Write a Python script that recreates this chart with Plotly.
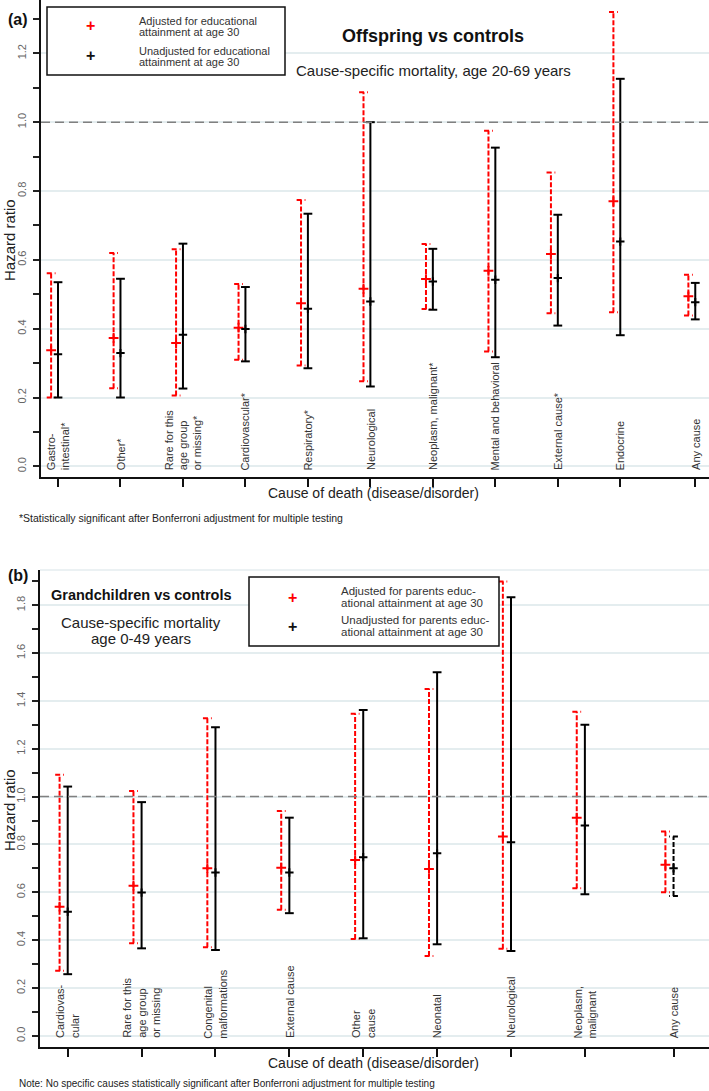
import plotly.graph_objects as go

# ---------------- DATA ----------------
# Panel (a): Offspring vs controls, cause-specific mortality age 20-69
a_labels = ["Gastro-<br>intestinal*", "Other*", "Rare for this<br>age group<br>or missing*",
            "Cardiovascular*", "Respiratory*", "Neurological", "Neoplasm, malignant*",
            "Mental and behavioral", "External cause*", "Endocrine", "Any cause"]
a_pos = [1, 2, 3, 4, 5, 6, 7, 8, 9, 10, 11.2]
a_adj_hr = [0.337, 0.373, 0.358, 0.403, 0.474, 0.516, 0.544, 0.568, 0.617, 0.770, 0.494]
a_adj_lo = [0.200, 0.227, 0.206, 0.310, 0.293, 0.247, 0.457, 0.334, 0.445, 0.448, 0.438]
a_adj_hi = [0.561, 0.620, 0.631, 0.530, 0.774, 1.087, 0.646, 0.975, 0.854, 1.320, 0.557]
a_una_hr = [0.326, 0.329, 0.382, 0.399, 0.458, 0.479, 0.537, 0.542, 0.547, 0.653, 0.477]
a_una_lo = [0.200, 0.200, 0.226, 0.305, 0.285, 0.232, 0.455, 0.317, 0.409, 0.381, 0.427]
a_una_hi = [0.535, 0.545, 0.647, 0.521, 0.734, 1.000, 0.632, 0.926, 0.731, 1.126, 0.533]

# Panel (b): Grandchildren vs controls, cause-specific mortality age 0-49
b_labels = ["Cardiovas-<br>cular", "Rare for this<br>age group<br>or missing", "Congenital<br>malformations",
            "External cause", "Other<br>cause", "Neonatal", "Neurological", "Neoplasm,<br>malignant", "Any cause"]
b_pos = [1, 2, 3, 4, 5, 6, 7, 8, 9.2]
b_adj_hr = [0.540, 0.628, 0.701, 0.703, 0.735, 0.698, 0.833, 0.912, 0.715]
b_adj_lo = [0.272, 0.387, 0.371, 0.527, 0.405, 0.334, 0.364, 0.617, 0.600]
b_adj_hi = [1.091, 1.024, 1.328, 0.940, 1.346, 1.450, 1.899, 1.355, 0.854]
b_una_hr = [0.519, 0.599, 0.683, 0.683, 0.747, 0.763, 0.809, 0.879, 0.701]
b_una_lo = [0.258, 0.366, 0.359, 0.513, 0.408, 0.383, 0.355, 0.592, 0.585]
b_una_hi = [1.042, 0.977, 1.290, 0.912, 1.362, 1.520, 1.833, 1.300, 0.833]

REF_HR = 1.0
y_ticks = [0.0, 0.2, 0.4, 0.6, 0.8, 1.0, 1.2, 1.4, 1.6, 1.8]

# ---------------- STYLE ----------------
W, H = 709, 1091
FONT = "Liberation Sans, Arial, sans-serif"
RED = "#ff0000"
BLACK = "#000000"
GRID = "#e4edef"
RED_OFF = -0.11
DASHED_UNADJ_B = {"Any cause"}


def px_x(x):
    return x / W


def px_y(y):
    return 1 - y / H


# axis geometry (pixels)
A_LEFT, A_TOP, A_BOT = 41, 0, 477
B_LEFT, B_TOP, B_BOT = 40, 570, 1046.7
A_XR = [0.728, 11.42]
A_YR = [-0.031, 1.355]
B_XR = [0.625, 9.68]
B_YR = [-0.045, 1.947]

a_ppu = (W - A_LEFT) / (A_XR[1] - A_XR[0])
b_ppu = (W - B_LEFT) / (B_XR[1] - B_XR[0])

fig = go.Figure()


def add_series(xa, ya, pos, lo, hi, hr, off, color, ppu, dashed, cap_dir, msize, labels=None, dashed_set=None):
    cw = 4.4 / ppu
    groups = {}
    for i, p in enumerate(pos):
        d = dashed
        cd = cap_dir
        if dashed_set is not None and labels is not None:
            lab = labels[i].replace("<br>", " ")
            if lab in dashed_set:
                d = True
                cd = "right"
        key = (d, cd)
        g = groups.setdefault(key, {"vx": [], "vy": [], "cx": [], "cy": []})
        x = p + off
        g["vx"] += [x, x, None]
        g["vy"] += [lo[i], hi[i], None]
        for yv in (lo[i], hi[i]):
            if cd == "left":
                g["cx"] += [x - cw, x + cw, None]
            else:
                g["cx"] += [x + cw, x - cw, None]
            g["cy"] += [yv, yv, None]
    for (d, cd), g in groups.items():
        dash = "5px,2px" if d else "solid"
        capdash = "5px,3px" if d else "solid"
        fig.add_trace(go.Scatter(x=g["vx"], y=g["vy"], mode="lines", xaxis=xa, yaxis=ya,
                                 line=dict(color=color, width=2, dash=dash),
                                 hoverinfo="skip", showlegend=False, connectgaps=False))
        fig.add_trace(go.Scatter(x=g["cx"], y=g["cy"], mode="lines", xaxis=xa, yaxis=ya,
                                 line=dict(color=color, width=2, dash=capdash),
                                 hoverinfo="skip", showlegend=False, connectgaps=False))
    fig.add_trace(go.Scatter(x=[p + off for p in pos], y=hr, mode="markers", xaxis=xa, yaxis=ya,
                             marker=dict(symbol="cross-thin", size=msize, color=color,
                                         line=dict(color=color, width=2)),
                             showlegend=False))


# Panel a
add_series("x", "y", a_pos, a_adj_lo, a_adj_hi, a_adj_hr, RED_OFF, RED, a_ppu, True, "left", 7)
add_series("x", "y", a_pos, a_una_lo, a_una_hi, a_una_hr, 0.0, BLACK, a_ppu, False, "left", 6)
# Panel b
add_series("x2", "y2", b_pos, b_adj_lo, b_adj_hi, b_adj_hr, RED_OFF, RED, b_ppu, True, "left", 7)
add_series("x2", "y2", b_pos, b_una_lo, b_una_hi, b_una_hr, 0.0, BLACK, b_ppu, False, "left", 6,
           labels=b_labels, dashed_set=DASHED_UNADJ_B)

yaxis_common = dict(
    tickvals=y_ticks, ticktext=[f"{v:.1f}" for v in y_ticks], tickangle=-90,
    ticks="outside", ticklen=6, tickwidth=1.5, tickcolor="#222",
    tickfont=dict(family=FONT, size=11, color="#666"),
    minor=dict(dtick=0.1, tick0=0, ticks="outside", ticklen=6, tickwidth=1.5, tickcolor="#222", showgrid=False),
    showgrid=True, gridcolor=GRID, gridwidth=1.5, zeroline=False,
    showline=True, linecolor="#111", linewidth=2, ticklabelstandoff=3,
)
xaxis_common = dict(
    ticks="outside", ticklen=8, tickwidth=2, tickcolor="#111", showticklabels=False,
    showgrid=False, zeroline=False, showline=True, linecolor="#111", linewidth=2,
)

fig.update_layout(
    width=W, height=H, margin=dict(l=0, r=0, t=0, b=0),
    paper_bgcolor="white", plot_bgcolor="white",
    font=dict(family=FONT, color="#222"),
    xaxis=dict(domain=[A_LEFT / W, 1], range=A_XR, tickvals=a_pos, anchor="y", **xaxis_common),
    yaxis=dict(domain=[px_y(A_BOT), px_y(A_TOP)], range=A_YR, anchor="x", **yaxis_common),
    xaxis2=dict(domain=[B_LEFT / W, 1], range=B_XR, tickvals=b_pos, anchor="y2", **xaxis_common),
    yaxis2=dict(domain=[px_y(B_BOT), px_y(B_TOP)], range=B_YR, anchor="x2", **yaxis_common),
    showlegend=False,
)

shapes = []
# reference lines at HR = 1
for xr, yr in (("x domain", "y"), ("x2 domain", "y2")):
    shapes.append(dict(type="line", xref=xr, yref=yr, x0=0, x1=1, y0=REF_HR, y1=REF_HR,
                       line=dict(color="#808080", width=1.5, dash="9px,5px"), layer="above"))
# faint top border on panel b
shapes.append(dict(type="line", xref="x2 domain", yref="y2 domain", x0=0, x1=1, y0=1, y1=1,
                   line=dict(color=GRID, width=1.5), layer="below"))
# legend boxes
shapes.append(dict(type="rect", xref="paper", yref="paper", x0=px_x(47), x1=px_x(285),
                   y0=px_y(75), y1=px_y(7), line=dict(color="#111", width=1.5), fillcolor="white", layer="above"))
shapes.append(dict(type="rect", xref="paper", yref="paper", x0=px_x(249), x1=px_x(499),
                   y0=px_y(646), y1=px_y(577), line=dict(color="#111", width=1.5), fillcolor="white", layer="above"))
fig.update_layout(shapes=shapes)

ann = []


def text(x, y, s, size, xanchor="center", yanchor="middle", bold=False, color="#222", angle=0, align="center"):
    ann.append(dict(xref="paper", yref="paper", x=px_x(x), y=px_y(y), text=(f"<b>{s}</b>" if bold else s),
                    showarrow=False, xanchor=xanchor, yanchor=yanchor, textangle=angle, align=align,
                    font=dict(family=FONT, size=size, color=color)))


# Panel a texts
text(18, 19, "(a)", 16, bold=True, color="#111")
text(90, 26, "+", 16, bold=True, color=RED)
text(90, 56, "+", 16, bold=True, color="#111")
text(137, 21, "Adjusted for educational", 11, xanchor="left", color="#333")
text(137, 32, "attainment at age 30", 11, xanchor="left", color="#333")
text(137, 51, "Unadjusted for educational", 11, xanchor="left", color="#333")
text(137, 62, "attainment at age 30", 11, xanchor="left", color="#333")
text(433, 36, "Offspring vs controls", 18, bold=True, color="#111")
text(433, 70, "Cause-specific mortality, age 20-69 years", 15, color="#222")
text(9, 240, "Hazard ratio", 15, angle=-90, color="#222")
text(374, 493, "Cause of death (disease/disorder)", 14, color="#222")
text(17, 518, "*Statistically significant after Bonferroni adjustment for multiple testing", 10.5,
     xanchor="left", color="#222")

# Panel b texts
text(18, 575, "(b)", 16, bold=True, color="#111")
text(292, 597, "+", 16, bold=True, color=RED)
text(292, 626, "+", 16, bold=True, color="#111")
text(339, 591, "Adjusted for parents educ-", 11.5, xanchor="left", color="#333")
text(339, 603, "ational attainment at age 30", 11.5, xanchor="left", color="#333")
text(339, 620, "Unadjusted for parents educ-", 11.5, xanchor="left", color="#333")
text(339, 632, "ational attainment at age 30", 11.5, xanchor="left", color="#333")
text(141, 595, "Grandchildren vs controls", 14.5, bold=True, color="#111")
text(141, 622, "Cause-specific mortality", 15, color="#222")
text(141, 638, "age 0-49 years", 15, color="#222")
text(9, 810, "Hazard ratio", 15, angle=-90, color="#222")
text(374, 1063, "Cause of death (disease/disorder)", 14, color="#222")
text(17, 1083, "Note: No specific causes statistically significant after Bonferroni adjustment for multiple testing",
     10, xanchor="left", color="#222")

# category labels, rotated, inside plot above the axis
for p, lab in zip(a_pos, a_labels):
    ann.append(dict(xref="x", yref="y", x=p, y=-0.017, text=lab, showarrow=False, textangle=-90,
                    xanchor="center", yanchor="bottom", align="left",
                    font=dict(family=FONT, size=11, color="#333")))
for p, lab in zip(b_pos, b_labels):
    ann.append(dict(xref="x2", yref="y2", x=p, y=-0.018, text=lab, showarrow=False, textangle=-90,
                    xanchor="center", yanchor="bottom", align="left",
                    font=dict(family=FONT, size=11, color="#333")))

fig.update_layout(annotations=ann)
fig.write_html("out.html", config={"displayModeBar": False},
               post_script="document.body.style.margin='0';document.body.style.overflow='hidden';")
